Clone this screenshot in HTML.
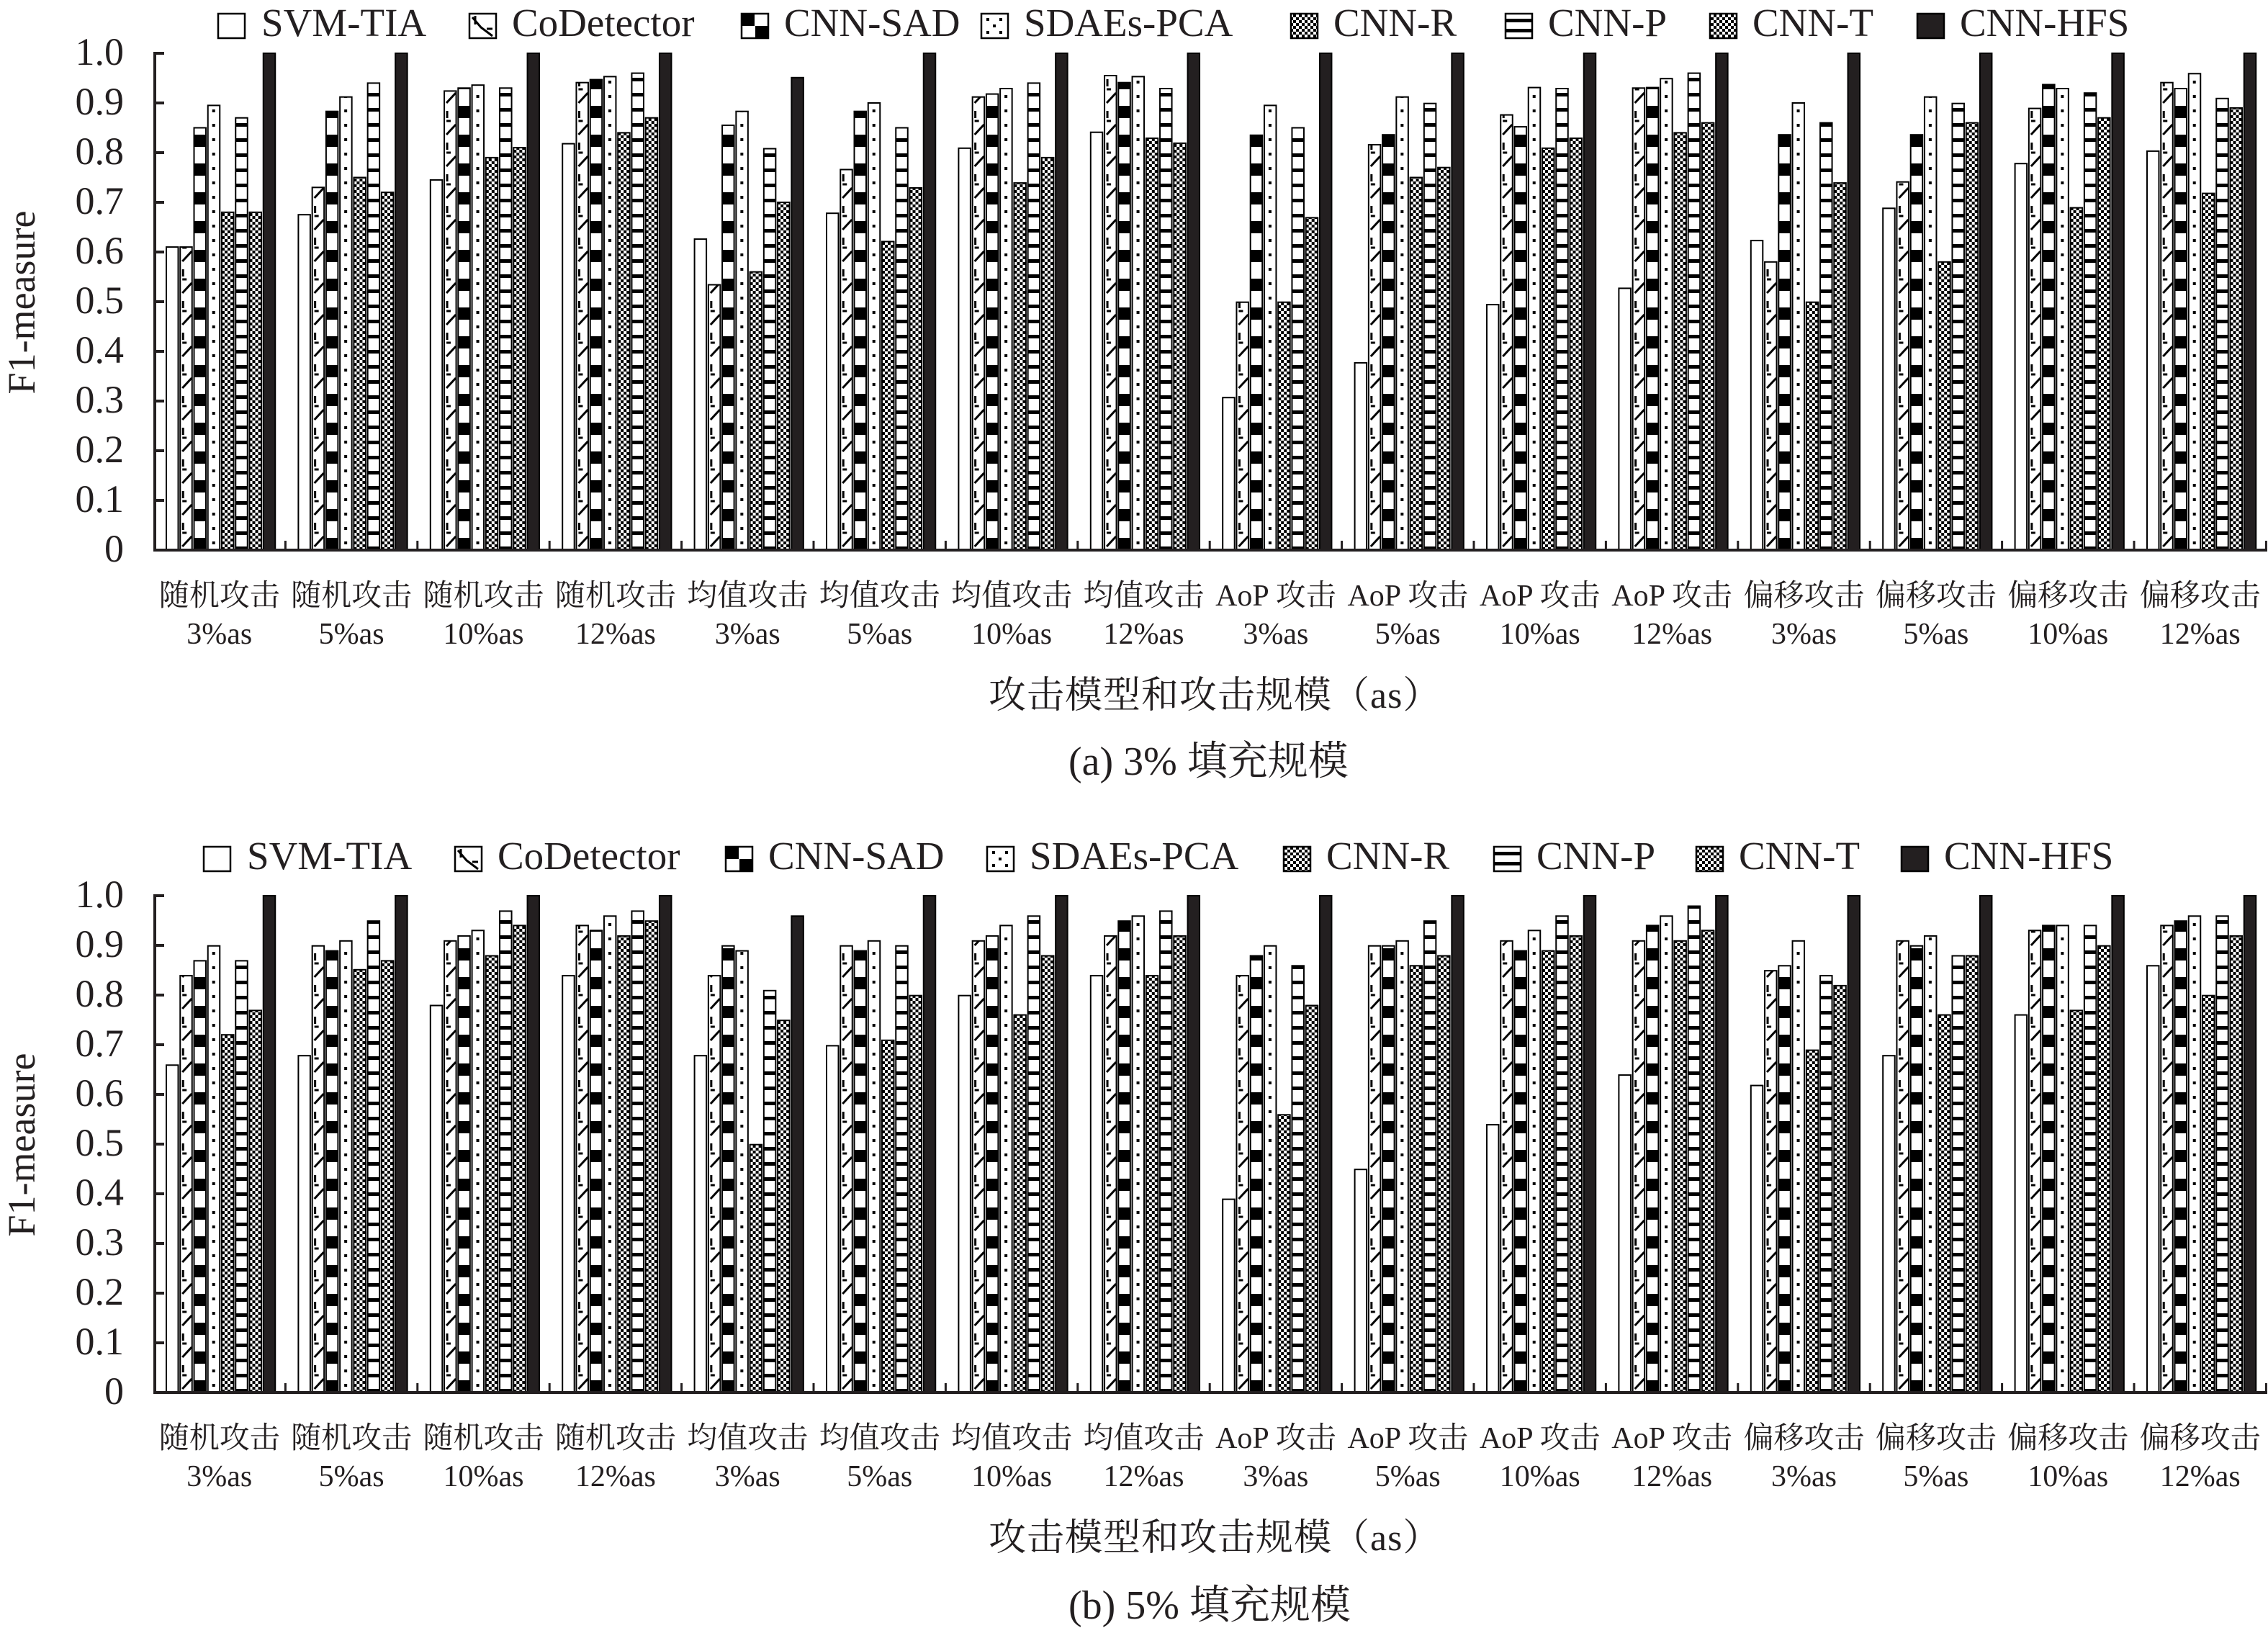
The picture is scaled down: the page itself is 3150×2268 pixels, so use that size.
<!DOCTYPE html>
<html><head><meta charset="utf-8">
<style>
html,body{margin:0;padding:0;background:#fff;}
svg{display:block;}
.bars rect{stroke:#000;stroke-width:2;}
.s0{fill:#fff}.s1{fill:url(#p1)}.s2{fill:url(#p2)}.s3{fill:url(#p3)}.s4{fill:url(#p4)}.s5{fill:url(#p5)}.s6{fill:url(#p6)}.s7{fill:#231f20}
.lat{font-family:"Liberation Serif","Noto Serif CJK SC",serif;fill:#231f20;}
.cjk{font-family:"Liberation Serif","Noto Serif CJK SC",serif;fill:#231f20;}
.tk{font-size:54px;text-anchor:end;}
.xl{font-size:42px;text-anchor:middle;}
.lg{font-size:55px;}
</style></head><body>
<svg width="3150" height="2268" viewBox="0 0 3150 2268" xmlns="http://www.w3.org/2000/svg">
<defs>
<pattern id="p1" patternUnits="userSpaceOnUse" x="37.25" y="0" width="19.25" height="44">
<rect width="19.25" height="44" fill="#fff"/>
<path d="M3 5 L16 19" stroke="#000" stroke-width="3"/>
<path d="M4 28 L4 38 M3 24 L9 24" stroke="#000" stroke-width="3"/>
</pattern>
<pattern id="p2" patternUnits="userSpaceOnUse" x="56.5" y="0" width="19.25" height="40">
<rect width="19.25" height="40" fill="#fff"/><rect width="19.25" height="17" fill="#000"/>
</pattern>
<pattern id="p3" patternUnits="userSpaceOnUse" x="75.75" y="0" width="19.25" height="20">
<rect width="19.25" height="20" fill="#fff"/><rect x="6" y="8" width="4" height="4" fill="#000"/>
</pattern>
<pattern id="p4" patternUnits="userSpaceOnUse" x="95" y="0" width="8" height="8">
<rect width="8" height="8" fill="#fff"/><rect width="4" height="4" fill="#000"/><rect x="4" y="4" width="4" height="4" fill="#000"/>
</pattern>
<pattern id="p5" patternUnits="userSpaceOnUse" x="114.25" y="0" width="19.25" height="21">
<rect width="19.25" height="21" fill="#fff"/><rect width="19.25" height="5" fill="#000"/>
</pattern>
<pattern id="p6" patternUnits="userSpaceOnUse" x="133.5" y="0" width="8" height="8">
<rect width="8" height="8" fill="#fff"/><rect width="4" height="4" fill="#000"/><rect x="4" y="4" width="4" height="4" fill="#000"/>
</pattern>
<pattern id="pk" patternUnits="userSpaceOnUse" x="0" y="0" width="8" height="8">
<rect width="8" height="8" fill="#fff"/><rect width="4" height="4" fill="#000"/><rect x="4" y="4" width="4" height="4" fill="#000"/>
</pattern>
</defs>
<rect width="3150" height="2268" fill="#fff"/>

<!-- ================= TOP CHART ================= -->
<g stroke="#000" stroke-width="2.5">
<rect x="303" y="19" width="37" height="34" fill="#fff"/>
<rect x="652" y="19" width="37" height="34" fill="#fff"/>
<rect x="1030" y="19" width="37" height="34" fill="#fff"/>
<rect x="1363" y="19" width="37" height="34" fill="#fff"/>
<rect x="1793" y="19" width="37" height="34" fill="url(#pk)"/>
<rect x="2091" y="19" width="37" height="34" fill="#fff"/>
<rect x="2375" y="19" width="37" height="34" fill="url(#pk)"/>
<rect x="2663" y="19" width="37" height="34" fill="#231f20"/>
</g>
<path d="M656 24 L668 38 L684 50 M660 22 L660 34 M676 40 L684 40" stroke="#000" stroke-width="3" fill="none"/>
<rect x="1031" y="20" width="17" height="16" fill="#000"/><rect x="1049" y="36" width="17" height="16" fill="#000"/>
<g fill="#000"><rect x="1370" y="25" width="4" height="4"/><rect x="1388" y="25" width="4" height="4"/><rect x="1379" y="34" width="4" height="4"/><rect x="1370" y="43" width="4" height="4"/><rect x="1388" y="43" width="4" height="4"/></g>
<g fill="#000"><rect x="2092" y="26" width="35" height="5"/><rect x="2092" y="40" width="35" height="5"/></g>
<g class="lat lg">
<text x="363" y="50">SVM-TIA</text>
<text x="711" y="50">CoDetector</text>
<text x="1089" y="50">CNN-SAD</text>
<text x="1422" y="50">SDAEs-PCA</text>
<text x="1852" y="50">CNN-R</text>
<text x="2150" y="50">CNN-P</text>
<text x="2434" y="50">CNN-T</text>
<text x="2722" y="50">CNN-HFS</text>
</g>

<g class="bars">
<g transform="translate(213,764) scale(1,-1)"><rect class="s0" x="18" width="16.5" height="420.9"/><rect class="s1" x="37.25" width="16.5" height="420.9"/><rect class="s2" x="56.5" width="16.5" height="586.5"/><rect class="s3" x="75.75" width="16.5" height="617.6"/><rect class="s4" x="95" width="16.5" height="469.2"/><rect class="s5" x="114.25" width="16.5" height="600.3"/><rect class="s6" x="133.5" width="16.5" height="469.2"/><rect class="s7" x="152.75" width="16.5" height="690"/></g>
<g transform="translate(396.4,764) scale(1,-1)"><rect class="s0" x="18" width="16.5" height="465.8"/><rect class="s1" x="37.25" width="16.5" height="503.7"/><rect class="s2" x="56.5" width="16.5" height="609.3"/><rect class="s3" x="75.75" width="16.5" height="629.3"/><rect class="s4" x="95" width="16.5" height="517.5"/><rect class="s5" x="114.25" width="16.5" height="648.6"/><rect class="s6" x="133.5" width="16.5" height="496.8"/><rect class="s7" x="152.75" width="16.5" height="690"/></g>
<g transform="translate(579.8,764) scale(1,-1)"><rect class="s0" x="18" width="16.5" height="514.1"/><rect class="s1" x="37.25" width="16.5" height="637.6"/><rect class="s2" x="56.5" width="16.5" height="641.7"/><rect class="s3" x="75.75" width="16.5" height="645.8"/><rect class="s4" x="95" width="16.5" height="545.1"/><rect class="s5" x="114.25" width="16.5" height="641.7"/><rect class="s6" x="133.5" width="16.5" height="558.9"/><rect class="s7" x="152.75" width="16.5" height="690"/></g>
<g transform="translate(763.2,764) scale(1,-1)"><rect class="s0" x="18" width="16.5" height="564.4"/><rect class="s1" x="37.25" width="16.5" height="649.3"/><rect class="s2" x="56.5" width="16.5" height="653.4"/><rect class="s3" x="75.75" width="16.5" height="657.6"/><rect class="s4" x="95" width="16.5" height="579.6"/><rect class="s5" x="114.25" width="16.5" height="662.4"/><rect class="s6" x="133.5" width="16.5" height="600.3"/><rect class="s7" x="152.75" width="16.5" height="690"/></g>
<g transform="translate(946.6,764) scale(1,-1)"><rect class="s0" x="18" width="16.5" height="431.9"/><rect class="s1" x="37.25" width="16.5" height="368.5"/><rect class="s2" x="56.5" width="16.5" height="590"/><rect class="s3" x="75.75" width="16.5" height="609.3"/><rect class="s4" x="95" width="16.5" height="386.4"/><rect class="s5" x="114.25" width="16.5" height="557.5"/><rect class="s6" x="133.5" width="16.5" height="483"/><rect class="s7" x="152.75" width="16.5" height="656.2"/></g>
<g transform="translate(1130,764) scale(1,-1)"><rect class="s0" x="18" width="16.5" height="467.8"/><rect class="s1" x="37.25" width="16.5" height="528.5"/><rect class="s2" x="56.5" width="16.5" height="609.3"/><rect class="s3" x="75.75" width="16.5" height="621"/><rect class="s4" x="95" width="16.5" height="428.5"/><rect class="s5" x="114.25" width="16.5" height="586.5"/><rect class="s6" x="133.5" width="16.5" height="503"/><rect class="s7" x="152.75" width="16.5" height="690"/></g>
<g transform="translate(1313.4,764) scale(1,-1)"><rect class="s0" x="18" width="16.5" height="558.2"/><rect class="s1" x="37.25" width="16.5" height="629.3"/><rect class="s2" x="56.5" width="16.5" height="633.4"/><rect class="s3" x="75.75" width="16.5" height="641"/><rect class="s4" x="95" width="16.5" height="509.9"/><rect class="s5" x="114.25" width="16.5" height="648.6"/><rect class="s6" x="133.5" width="16.5" height="545.1"/><rect class="s7" x="152.75" width="16.5" height="690"/></g>
<g transform="translate(1496.8,764) scale(1,-1)"><rect class="s0" x="18" width="16.5" height="580.3"/><rect class="s1" x="37.25" width="16.5" height="659"/><rect class="s2" x="56.5" width="16.5" height="649.3"/><rect class="s3" x="75.75" width="16.5" height="657.6"/><rect class="s4" x="95" width="16.5" height="572"/><rect class="s5" x="114.25" width="16.5" height="641"/><rect class="s6" x="133.5" width="16.5" height="565.1"/><rect class="s7" x="152.75" width="16.5" height="690"/></g>
<g transform="translate(1680.2,764) scale(1,-1)"><rect class="s0" x="18" width="16.5" height="211.8"/><rect class="s1" x="37.25" width="16.5" height="344.3"/><rect class="s2" x="56.5" width="16.5" height="576.2"/><rect class="s3" x="75.75" width="16.5" height="617.6"/><rect class="s4" x="95" width="16.5" height="344.3"/><rect class="s5" x="114.25" width="16.5" height="586.5"/><rect class="s6" x="133.5" width="16.5" height="461.6"/><rect class="s7" x="152.75" width="16.5" height="690"/></g>
<g transform="translate(1863.6,764) scale(1,-1)"><rect class="s0" x="18" width="16.5" height="260.1"/><rect class="s1" x="37.25" width="16.5" height="563"/><rect class="s2" x="56.5" width="16.5" height="576.8"/><rect class="s3" x="75.75" width="16.5" height="629.3"/><rect class="s4" x="95" width="16.5" height="517.5"/><rect class="s5" x="114.25" width="16.5" height="620.3"/><rect class="s6" x="133.5" width="16.5" height="531.3"/><rect class="s7" x="152.75" width="16.5" height="690"/></g>
<g transform="translate(2047,764) scale(1,-1)"><rect class="s0" x="18" width="16.5" height="340.9"/><rect class="s1" x="37.25" width="16.5" height="604.4"/><rect class="s2" x="56.5" width="16.5" height="587.9"/><rect class="s3" x="75.75" width="16.5" height="642.4"/><rect class="s4" x="95" width="16.5" height="558.2"/><rect class="s5" x="114.25" width="16.5" height="641"/><rect class="s6" x="133.5" width="16.5" height="572"/><rect class="s7" x="152.75" width="16.5" height="690"/></g>
<g transform="translate(2230.4,764) scale(1,-1)"><rect class="s0" x="18" width="16.5" height="363.6"/><rect class="s1" x="37.25" width="16.5" height="641.7"/><rect class="s2" x="56.5" width="16.5" height="642.4"/><rect class="s3" x="75.75" width="16.5" height="654.8"/><rect class="s4" x="95" width="16.5" height="579.6"/><rect class="s5" x="114.25" width="16.5" height="662.4"/><rect class="s6" x="133.5" width="16.5" height="593.4"/><rect class="s7" x="152.75" width="16.5" height="690"/></g>
<g transform="translate(2413.8,764) scale(1,-1)"><rect class="s0" x="18" width="16.5" height="429.9"/><rect class="s1" x="37.25" width="16.5" height="400.2"/><rect class="s2" x="56.5" width="16.5" height="576.8"/><rect class="s3" x="75.75" width="16.5" height="621"/><rect class="s4" x="95" width="16.5" height="344.3"/><rect class="s5" x="114.25" width="16.5" height="593.4"/><rect class="s6" x="133.5" width="16.5" height="509.9"/><rect class="s7" x="152.75" width="16.5" height="690"/></g>
<g transform="translate(2597.2,764) scale(1,-1)"><rect class="s0" x="18" width="16.5" height="474.7"/><rect class="s1" x="37.25" width="16.5" height="511.3"/><rect class="s2" x="56.5" width="16.5" height="576.8"/><rect class="s3" x="75.75" width="16.5" height="629.3"/><rect class="s4" x="95" width="16.5" height="400.2"/><rect class="s5" x="114.25" width="16.5" height="620.3"/><rect class="s6" x="133.5" width="16.5" height="593.4"/><rect class="s7" x="152.75" width="16.5" height="690"/></g>
<g transform="translate(2780.6,764) scale(1,-1)"><rect class="s0" x="18" width="16.5" height="536.8"/><rect class="s1" x="37.25" width="16.5" height="613.4"/><rect class="s2" x="56.5" width="16.5" height="646.5"/><rect class="s3" x="75.75" width="16.5" height="641"/><rect class="s4" x="95" width="16.5" height="475.4"/><rect class="s5" x="114.25" width="16.5" height="634.8"/><rect class="s6" x="133.5" width="16.5" height="600.3"/><rect class="s7" x="152.75" width="16.5" height="690"/></g>
<g transform="translate(2964,764) scale(1,-1)"><rect class="s0" x="18" width="16.5" height="554.1"/><rect class="s1" x="37.25" width="16.5" height="649.3"/><rect class="s2" x="56.5" width="16.5" height="641"/><rect class="s3" x="75.75" width="16.5" height="661.7"/><rect class="s4" x="95" width="16.5" height="495.4"/><rect class="s5" x="114.25" width="16.5" height="627.2"/><rect class="s6" x="133.5" width="16.5" height="614.1"/><rect class="s7" x="152.75" width="16.5" height="690"/></g>
</g>

<g stroke="#231f20" fill="none">
<path d="M215 72 L215 766" stroke-width="4"/>
<path d="M213 764 L3149 764" stroke-width="4"/>
<path d="M215 74 H228 M215 143 H228 M215 212 H228 M215 281 H228 M215 350 H228 M215 419 H228 M215 488 H228 M215 557 H228 M215 626 H228 M215 695 H228" stroke-width="4"/>
<path d="M396.4 764 V751 M579.8 764 V751 M763.2 764 V751 M946.6 764 V751 M1130 764 V751 M1313.4 764 V751 M1496.8 764 V751 M1680.2 764 V751 M1863.6 764 V751 M2047 764 V751 M2230.4 764 V751 M2413.8 764 V751 M2597.2 764 V751 M2780.6 764 V751 M2964 764 V751 M3147.4 764 V751" stroke-width="3"/>
</g>
<g class="lat tk">
<text x="172" y="90">1.0</text><text x="172" y="159">0.9</text><text x="172" y="228">0.8</text><text x="172" y="297">0.7</text><text x="172" y="366">0.6</text><text x="172" y="435">0.5</text><text x="172" y="504">0.4</text><text x="172" y="573">0.3</text><text x="172" y="642">0.2</text><text x="172" y="711">0.1</text><text x="172" y="780">0</text>
</g>
<text class="lat" transform="translate(48,420) rotate(-90)" text-anchor="middle" font-size="54">F1-measure</text>
<g class="cjk xl">
<text x="304.7" y="841">随机攻击</text><text x="488.1" y="841">随机攻击</text><text x="671.5" y="841">随机攻击</text><text x="854.9" y="841">随机攻击</text>
<text x="1038.3" y="841">均值攻击</text><text x="1221.7" y="841">均值攻击</text><text x="1405.1" y="841">均值攻击</text><text x="1588.5" y="841">均值攻击</text>
<text x="1771.9" y="841">AoP 攻击</text><text x="1955.3" y="841">AoP 攻击</text><text x="2138.7" y="841">AoP 攻击</text><text x="2322.1" y="841">AoP 攻击</text>
<text x="2505.5" y="841">偏移攻击</text><text x="2688.9" y="841">偏移攻击</text><text x="2872.3" y="841">偏移攻击</text><text x="3055.7" y="841">偏移攻击</text>
<text x="304.7" y="894">3%as</text><text x="488.1" y="894">5%as</text><text x="671.5" y="894">10%as</text><text x="854.9" y="894">12%as</text>
<text x="1038.3" y="894">3%as</text><text x="1221.7" y="894">5%as</text><text x="1405.1" y="894">10%as</text><text x="1588.5" y="894">12%as</text>
<text x="1771.9" y="894">3%as</text><text x="1955.3" y="894">5%as</text><text x="2138.7" y="894">10%as</text><text x="2322.1" y="894">12%as</text>
<text x="2505.5" y="894">3%as</text><text x="2688.9" y="894">5%as</text><text x="2872.3" y="894">10%as</text><text x="3055.7" y="894">12%as</text>
</g>
<text class="cjk" x="1373" y="983" font-size="52" letter-spacing="1">攻击模型和攻击规模（as）</text>
<text class="cjk" x="1484" y="1076" font-size="56">(a) 3% 填充规模</text>

<!-- ================= BOTTOM CHART ================= -->
<g stroke="#000" stroke-width="2.5">
<rect x="283" y="1176" width="37" height="34" fill="#fff"/>
<rect x="632" y="1176" width="37" height="34" fill="#fff"/>
<rect x="1008" y="1176" width="37" height="34" fill="#fff"/>
<rect x="1371" y="1176" width="37" height="34" fill="#fff"/>
<rect x="1783" y="1176" width="37" height="34" fill="url(#pk)"/>
<rect x="2075" y="1176" width="37" height="34" fill="#fff"/>
<rect x="2356" y="1176" width="37" height="34" fill="url(#pk)"/>
<rect x="2641" y="1176" width="37" height="34" fill="#231f20"/>
</g>
<path d="M636 1181 L648 1195 L664 1207 M640 1179 L640 1191 M656 1197 L664 1197" stroke="#000" stroke-width="3" fill="none"/>
<rect x="1009" y="1177" width="17" height="16" fill="#000"/><rect x="1027" y="1193" width="17" height="16" fill="#000"/>
<g fill="#000"><rect x="1378" y="1182" width="4" height="4"/><rect x="1396" y="1182" width="4" height="4"/><rect x="1387" y="1191" width="4" height="4"/><rect x="1378" y="1200" width="4" height="4"/><rect x="1396" y="1200" width="4" height="4"/></g>
<g fill="#000"><rect x="2076" y="1183" width="35" height="5"/><rect x="2076" y="1197" width="35" height="5"/></g>
<g class="lat lg">
<text x="343" y="1207">SVM-TIA</text>
<text x="691" y="1207">CoDetector</text>
<text x="1067" y="1207">CNN-SAD</text>
<text x="1430" y="1207">SDAEs-PCA</text>
<text x="1842" y="1207">CNN-R</text>
<text x="2134" y="1207">CNN-P</text>
<text x="2415" y="1207">CNN-T</text>
<text x="2700" y="1207">CNN-HFS</text>
</g>

<g class="bars">
<g transform="translate(213,1934) scale(1,-1)"><rect class="s0" x="18" width="16.5" height="454.7"/><rect class="s1" x="37.25" width="16.5" height="578.9"/><rect class="s2" x="56.5" width="16.5" height="599.6"/><rect class="s3" x="75.75" width="16.5" height="620.3"/><rect class="s4" x="95" width="16.5" height="496.8"/><rect class="s5" x="114.25" width="16.5" height="599.6"/><rect class="s6" x="133.5" width="16.5" height="530.6"/><rect class="s7" x="152.75" width="16.5" height="690"/></g>
<g transform="translate(396.4,1934) scale(1,-1)"><rect class="s0" x="18" width="16.5" height="467.8"/><rect class="s1" x="37.25" width="16.5" height="620.3"/><rect class="s2" x="56.5" width="16.5" height="613.4"/><rect class="s3" x="75.75" width="16.5" height="627.2"/><rect class="s4" x="95" width="16.5" height="587.2"/><rect class="s5" x="114.25" width="16.5" height="654.8"/><rect class="s6" x="133.5" width="16.5" height="599.6"/><rect class="s7" x="152.75" width="16.5" height="690"/></g>
<g transform="translate(579.8,1934) scale(1,-1)"><rect class="s0" x="18" width="16.5" height="537.5"/><rect class="s1" x="37.25" width="16.5" height="627.2"/><rect class="s2" x="56.5" width="16.5" height="634.1"/><rect class="s3" x="75.75" width="16.5" height="641.7"/><rect class="s4" x="95" width="16.5" height="606.5"/><rect class="s5" x="114.25" width="16.5" height="668.6"/><rect class="s6" x="133.5" width="16.5" height="648.6"/><rect class="s7" x="152.75" width="16.5" height="690"/></g>
<g transform="translate(763.2,1934) scale(1,-1)"><rect class="s0" x="18" width="16.5" height="578.9"/><rect class="s1" x="37.25" width="16.5" height="648.6"/><rect class="s2" x="56.5" width="16.5" height="641.7"/><rect class="s3" x="75.75" width="16.5" height="661.7"/><rect class="s4" x="95" width="16.5" height="634.1"/><rect class="s5" x="114.25" width="16.5" height="668.6"/><rect class="s6" x="133.5" width="16.5" height="654.8"/><rect class="s7" x="152.75" width="16.5" height="690"/></g>
<g transform="translate(946.6,1934) scale(1,-1)"><rect class="s0" x="18" width="16.5" height="467.8"/><rect class="s1" x="37.25" width="16.5" height="578.9"/><rect class="s2" x="56.5" width="16.5" height="620.3"/><rect class="s3" x="75.75" width="16.5" height="613.4"/><rect class="s4" x="95" width="16.5" height="344.3"/><rect class="s5" x="114.25" width="16.5" height="558.2"/><rect class="s6" x="133.5" width="16.5" height="516.8"/><rect class="s7" x="152.75" width="16.5" height="661.7"/></g>
<g transform="translate(1130,1934) scale(1,-1)"><rect class="s0" x="18" width="16.5" height="481.6"/><rect class="s1" x="37.25" width="16.5" height="620.3"/><rect class="s2" x="56.5" width="16.5" height="613.4"/><rect class="s3" x="75.75" width="16.5" height="627.2"/><rect class="s4" x="95" width="16.5" height="489.2"/><rect class="s5" x="114.25" width="16.5" height="620.3"/><rect class="s6" x="133.5" width="16.5" height="551.3"/><rect class="s7" x="152.75" width="16.5" height="690"/></g>
<g transform="translate(1313.4,1934) scale(1,-1)"><rect class="s0" x="18" width="16.5" height="551.3"/><rect class="s1" x="37.25" width="16.5" height="627.2"/><rect class="s2" x="56.5" width="16.5" height="634.1"/><rect class="s3" x="75.75" width="16.5" height="648.6"/><rect class="s4" x="95" width="16.5" height="524.4"/><rect class="s5" x="114.25" width="16.5" height="661.7"/><rect class="s6" x="133.5" width="16.5" height="606.5"/><rect class="s7" x="152.75" width="16.5" height="690"/></g>
<g transform="translate(1496.8,1934) scale(1,-1)"><rect class="s0" x="18" width="16.5" height="578.9"/><rect class="s1" x="37.25" width="16.5" height="634.1"/><rect class="s2" x="56.5" width="16.5" height="654.8"/><rect class="s3" x="75.75" width="16.5" height="661.7"/><rect class="s4" x="95" width="16.5" height="578.9"/><rect class="s5" x="114.25" width="16.5" height="668.6"/><rect class="s6" x="133.5" width="16.5" height="634.1"/><rect class="s7" x="152.75" width="16.5" height="690"/></g>
<g transform="translate(1680.2,1934) scale(1,-1)"><rect class="s0" x="18" width="16.5" height="268.4"/><rect class="s1" x="37.25" width="16.5" height="578.9"/><rect class="s2" x="56.5" width="16.5" height="606.5"/><rect class="s3" x="75.75" width="16.5" height="620.3"/><rect class="s4" x="95" width="16.5" height="385.7"/><rect class="s5" x="114.25" width="16.5" height="592.7"/><rect class="s6" x="133.5" width="16.5" height="537.5"/><rect class="s7" x="152.75" width="16.5" height="690"/></g>
<g transform="translate(1863.6,1934) scale(1,-1)"><rect class="s0" x="18" width="16.5" height="309.8"/><rect class="s1" x="37.25" width="16.5" height="620.3"/><rect class="s2" x="56.5" width="16.5" height="620.3"/><rect class="s3" x="75.75" width="16.5" height="627.2"/><rect class="s4" x="95" width="16.5" height="592.7"/><rect class="s5" x="114.25" width="16.5" height="654.8"/><rect class="s6" x="133.5" width="16.5" height="606.5"/><rect class="s7" x="152.75" width="16.5" height="690"/></g>
<g transform="translate(2047,1934) scale(1,-1)"><rect class="s0" x="18" width="16.5" height="371.9"/><rect class="s1" x="37.25" width="16.5" height="627.2"/><rect class="s2" x="56.5" width="16.5" height="613.4"/><rect class="s3" x="75.75" width="16.5" height="641.7"/><rect class="s4" x="95" width="16.5" height="613.4"/><rect class="s5" x="114.25" width="16.5" height="661.7"/><rect class="s6" x="133.5" width="16.5" height="634.1"/><rect class="s7" x="152.75" width="16.5" height="690"/></g>
<g transform="translate(2230.4,1934) scale(1,-1)"><rect class="s0" x="18" width="16.5" height="440.9"/><rect class="s1" x="37.25" width="16.5" height="627.2"/><rect class="s2" x="56.5" width="16.5" height="648.6"/><rect class="s3" x="75.75" width="16.5" height="661.7"/><rect class="s4" x="95" width="16.5" height="627.2"/><rect class="s5" x="114.25" width="16.5" height="675.5"/><rect class="s6" x="133.5" width="16.5" height="641.7"/><rect class="s7" x="152.75" width="16.5" height="690"/></g>
<g transform="translate(2413.8,1934) scale(1,-1)"><rect class="s0" x="18" width="16.5" height="426.4"/><rect class="s1" x="37.25" width="16.5" height="585.8"/><rect class="s2" x="56.5" width="16.5" height="592.7"/><rect class="s3" x="75.75" width="16.5" height="627.2"/><rect class="s4" x="95" width="16.5" height="475.4"/><rect class="s5" x="114.25" width="16.5" height="578.9"/><rect class="s6" x="133.5" width="16.5" height="565.1"/><rect class="s7" x="152.75" width="16.5" height="690"/></g>
<g transform="translate(2597.2,1934) scale(1,-1)"><rect class="s0" x="18" width="16.5" height="467.8"/><rect class="s1" x="37.25" width="16.5" height="627.2"/><rect class="s2" x="56.5" width="16.5" height="620.3"/><rect class="s3" x="75.75" width="16.5" height="634.1"/><rect class="s4" x="95" width="16.5" height="524.4"/><rect class="s5" x="114.25" width="16.5" height="606.5"/><rect class="s6" x="133.5" width="16.5" height="606.5"/><rect class="s7" x="152.75" width="16.5" height="690"/></g>
<g transform="translate(2780.6,1934) scale(1,-1)"><rect class="s0" x="18" width="16.5" height="524.4"/><rect class="s1" x="37.25" width="16.5" height="641.7"/><rect class="s2" x="56.5" width="16.5" height="648.6"/><rect class="s3" x="75.75" width="16.5" height="648.6"/><rect class="s4" x="95" width="16.5" height="530.6"/><rect class="s5" x="114.25" width="16.5" height="648.6"/><rect class="s6" x="133.5" width="16.5" height="620.3"/><rect class="s7" x="152.75" width="16.5" height="690"/></g>
<g transform="translate(2964,1934) scale(1,-1)"><rect class="s0" x="18" width="16.5" height="592.7"/><rect class="s1" x="37.25" width="16.5" height="648.6"/><rect class="s2" x="56.5" width="16.5" height="654.8"/><rect class="s3" x="75.75" width="16.5" height="661.7"/><rect class="s4" x="95" width="16.5" height="551.3"/><rect class="s5" x="114.25" width="16.5" height="661.7"/><rect class="s6" x="133.5" width="16.5" height="634.1"/><rect class="s7" x="152.75" width="16.5" height="690"/></g>
</g>

<g stroke="#231f20" fill="none">
<path d="M215 1242 L215 1936" stroke-width="4"/>
<path d="M213 1934 L3149 1934" stroke-width="4"/>
<path d="M215 1244 H228 M215 1313 H228 M215 1382 H228 M215 1451 H228 M215 1520 H228 M215 1589 H228 M215 1658 H228 M215 1727 H228 M215 1796 H228 M215 1865 H228" stroke-width="4"/>
<path d="M396.4 1934 V1921 M579.8 1934 V1921 M763.2 1934 V1921 M946.6 1934 V1921 M1130 1934 V1921 M1313.4 1934 V1921 M1496.8 1934 V1921 M1680.2 1934 V1921 M1863.6 1934 V1921 M2047 1934 V1921 M2230.4 1934 V1921 M2413.8 1934 V1921 M2597.2 1934 V1921 M2780.6 1934 V1921 M2964 1934 V1921 M3147.4 1934 V1921" stroke-width="3"/>
</g>
<g class="lat tk">
<text x="172" y="1260">1.0</text><text x="172" y="1329">0.9</text><text x="172" y="1398">0.8</text><text x="172" y="1467">0.7</text><text x="172" y="1536">0.6</text><text x="172" y="1605">0.5</text><text x="172" y="1674">0.4</text><text x="172" y="1743">0.3</text><text x="172" y="1812">0.2</text><text x="172" y="1881">0.1</text><text x="172" y="1950">0</text>
</g>
<text class="lat" transform="translate(48,1590) rotate(-90)" text-anchor="middle" font-size="54">F1-measure</text>
<g class="cjk xl">
<text x="304.7" y="2011">随机攻击</text><text x="488.1" y="2011">随机攻击</text><text x="671.5" y="2011">随机攻击</text><text x="854.9" y="2011">随机攻击</text>
<text x="1038.3" y="2011">均值攻击</text><text x="1221.7" y="2011">均值攻击</text><text x="1405.1" y="2011">均值攻击</text><text x="1588.5" y="2011">均值攻击</text>
<text x="1771.9" y="2011">AoP 攻击</text><text x="1955.3" y="2011">AoP 攻击</text><text x="2138.7" y="2011">AoP 攻击</text><text x="2322.1" y="2011">AoP 攻击</text>
<text x="2505.5" y="2011">偏移攻击</text><text x="2688.9" y="2011">偏移攻击</text><text x="2872.3" y="2011">偏移攻击</text><text x="3055.7" y="2011">偏移攻击</text>
<text x="304.7" y="2064">3%as</text><text x="488.1" y="2064">5%as</text><text x="671.5" y="2064">10%as</text><text x="854.9" y="2064">12%as</text>
<text x="1038.3" y="2064">3%as</text><text x="1221.7" y="2064">5%as</text><text x="1405.1" y="2064">10%as</text><text x="1588.5" y="2064">12%as</text>
<text x="1771.9" y="2064">3%as</text><text x="1955.3" y="2064">5%as</text><text x="2138.7" y="2064">10%as</text><text x="2322.1" y="2064">12%as</text>
<text x="2505.5" y="2064">3%as</text><text x="2688.9" y="2064">5%as</text><text x="2872.3" y="2064">10%as</text><text x="3055.7" y="2064">12%as</text>
</g>
<text class="cjk" x="1373" y="2153" font-size="52" letter-spacing="1">攻击模型和攻击规模（as）</text>
<text class="cjk" x="1484" y="2248" font-size="56">(b) 5% 填充规模</text>
</svg>
</body></html>
